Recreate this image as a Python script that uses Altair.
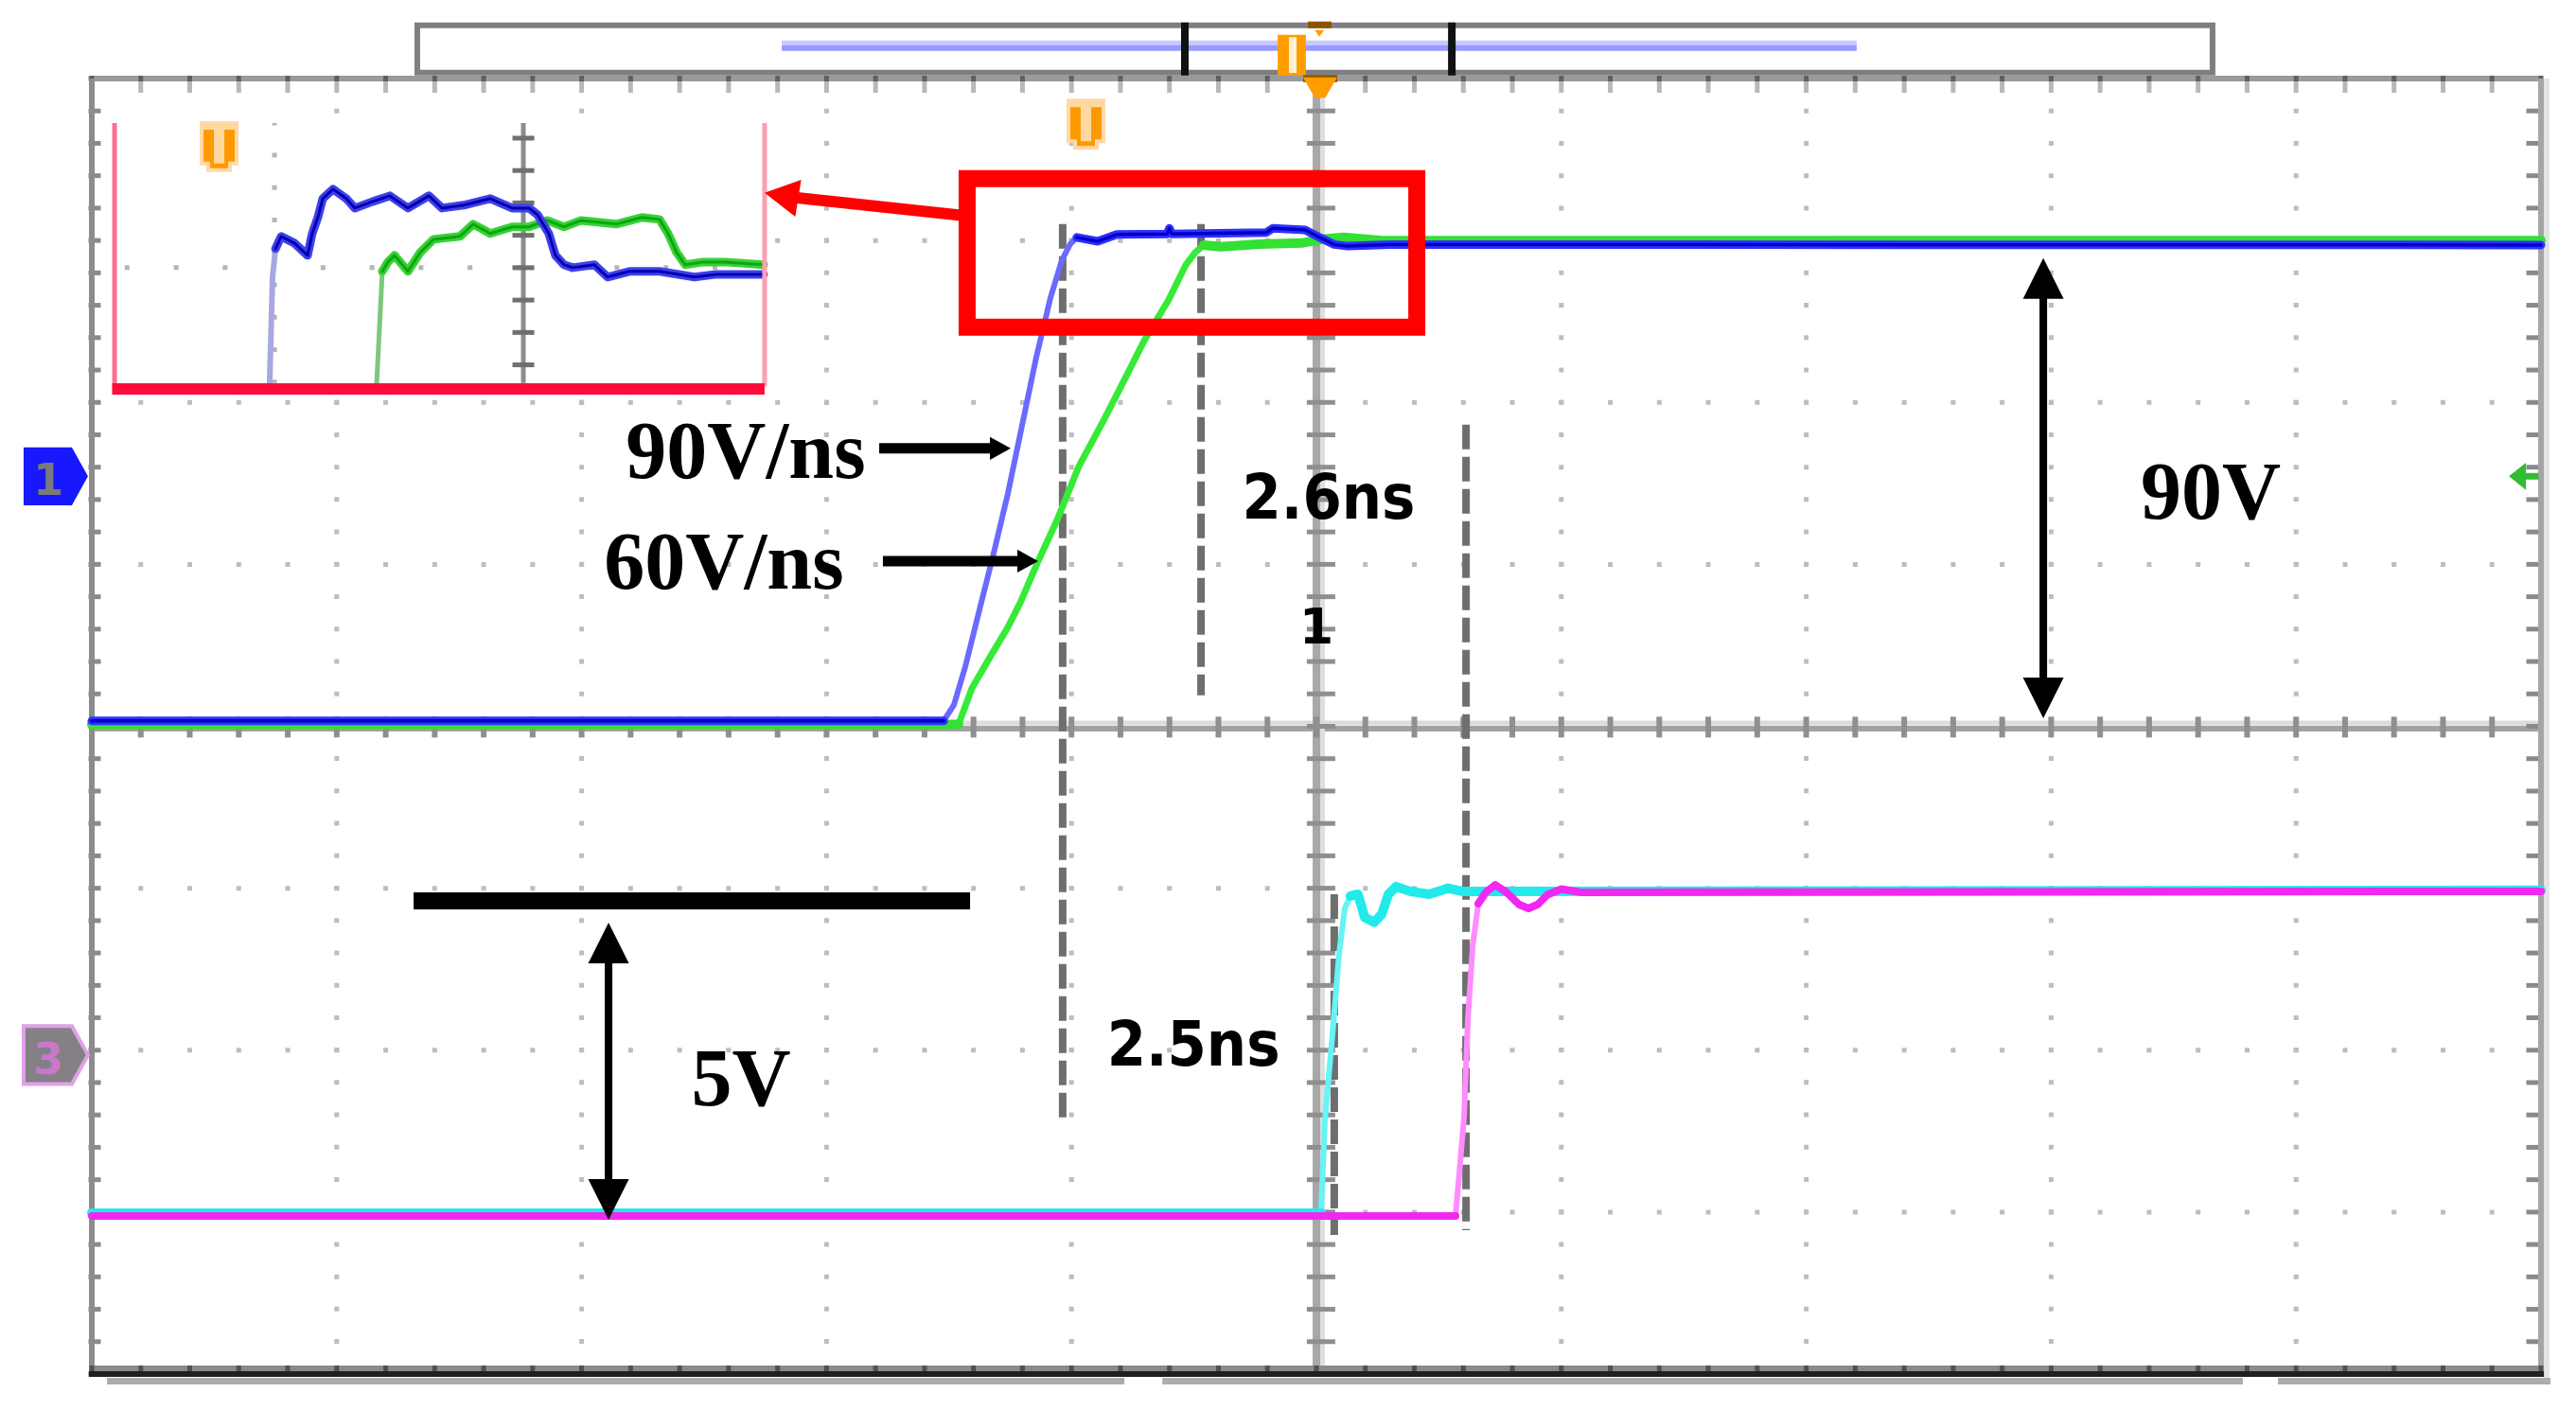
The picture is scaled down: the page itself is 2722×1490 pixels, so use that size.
import altair as alt
import pandas as pd

# ---------------- data, in oscilloscope divisions (x: 0..10, y: 0..8 from bottom) ----------------
# CH1 (blue) — 90 V/ns edge
ch1_base_x = [0.0, 3.478]
ch1_base_y = [4.033, 4.033]
ch1_rise_x = [3.478, 3.520, 3.566, 3.624, 3.682, 3.740, 3.798, 3.856, 3.914, 3.961, 3.995, 4.022]
ch1_rise_y = [4.033, 4.132, 4.366, 4.717, 5.067, 5.435, 5.856, 6.277, 6.645, 6.879, 6.978, 7.019]
ch1_top_x = [4.022, 4.107, 4.185, 4.390, 4.400, 4.410, 4.795, 4.822, 4.954, 5.012, 5.073, 5.127, 5.300, 10.0]
ch1_top_y = [7.019, 6.995, 7.037, 7.040, 7.075, 7.040, 7.049, 7.075, 7.065, 7.020, 6.975, 6.965, 6.975, 6.972]

# CH2 (green) — 60 V/ns edge
ch2_base_x = [0.0, 3.539]
ch2_base_y = [4.012, 4.012]
ch2_rise_x = [3.539, 3.594, 3.671, 3.740, 3.791, 3.864, 3.941, 4.030, 4.134, 4.223, 4.297, 4.397, 4.467, 4.505, 4.540]
ch2_rise_y = [4.012, 4.237, 4.436, 4.611, 4.763, 5.020, 5.272, 5.605, 5.897, 6.160, 6.382, 6.634, 6.850, 6.926, 6.972]
ch2_top_x = [4.540, 4.610, 4.764, 4.938, 5.035, 5.112, 5.267, 10.0]
ch2_top_y = [6.972, 6.961, 6.978, 6.984, 7.010, 7.020, 7.000, 7.000]

# CH3 (cyan)
ch3_base_x = [0.0, 5.019]
ch3_base_y = [0.994, 0.994]
ch3_rise_x = [5.019, 5.035, 5.070, 5.093, 5.116, 5.139]
ch3_rise_y = [0.994, 1.572, 2.174, 2.601, 2.876, 2.952]
ch3_top_x = [5.139, 5.170, 5.197, 5.236, 5.267, 5.294, 5.325, 5.382, 5.460, 5.537, 5.595, 10.0]
ch3_top_y = [2.952, 2.963, 2.820, 2.790, 2.840, 2.963, 3.010, 2.981, 2.963, 3.000, 2.981, 2.987]

# CH4 (magenta)
ch4_base_x = [0.0, 5.568]
ch4_base_y = [0.976, 0.976]
ch4_rise_x = [5.568, 5.580, 5.603, 5.618, 5.638, 5.661]
ch4_rise_y = [0.976, 1.181, 1.590, 2.174, 2.642, 2.905]
ch4_top_x = [5.661, 5.692, 5.730, 5.776, 5.827, 5.866, 5.904, 5.943, 6.001, 6.078, 10.0]
ch4_top_y = [2.905, 2.975, 3.020, 2.975, 2.900, 2.875, 2.900, 2.960, 2.995, 2.975, 2.981]

# Inset (zoom of the red box)
in_blue_edge_x = [0.726, 0.738, 0.750]
in_blue_edge_y = [6.113, 6.774, 6.949]
in_blue_x = [0.750, 0.773, 0.827, 0.881, 0.900, 0.923, 0.943, 0.985, 1.039, 1.074, 1.148, 1.217, 1.291,
             1.376, 1.430, 1.519, 1.627, 1.716, 1.785, 1.820, 1.866, 1.893, 1.928, 1.963, 2.052, 2.106,
             2.195, 2.318, 2.461, 2.550, 2.743]
in_blue_y = [6.949, 7.025, 6.984, 6.908, 7.043, 7.142, 7.259, 7.317, 7.259, 7.200, 7.241, 7.276, 7.200,
             7.276, 7.200, 7.218, 7.259, 7.200, 7.200, 7.159, 7.043, 6.908, 6.850, 6.832, 6.850, 6.774,
             6.809, 6.809, 6.774, 6.791, 6.791]
in_green_edge_x = [1.163, 1.186]
in_green_edge_y = [6.113, 6.809]
in_green_x = [1.186, 1.209, 1.236, 1.291, 1.341, 1.395, 1.430, 1.503, 1.557, 1.627, 1.716, 1.785, 1.859,
              1.928, 1.998, 2.141, 2.245, 2.318, 2.353, 2.388, 2.423, 2.496, 2.585, 2.743]
in_green_y = [6.809, 6.867, 6.908, 6.809, 6.926, 7.007, 7.013, 7.025, 7.101, 7.043, 7.084, 7.084, 7.124,
              7.084, 7.124, 7.101, 7.142, 7.130, 7.043, 6.926, 6.850, 6.867, 6.867, 6.850]
inset_box = {"x": 0.093, "x2": 2.747, "y": 6.084, "y2": 7.726}
inset_grid_dotted_x = 0.746
inset_grid_solid_x = 1.762
inset_grid_dotted_y = 6.832
inset_ticks_y = [6.232, 6.432, 6.632, 6.832, 7.032, 7.232, 7.432, 7.632]

# Annotations
red_box = {"x": 3.574, "x2": 5.410, "y": 6.464, "y2": 7.382}
red_arrow_x = [3.559, 2.871]
red_arrow_y = [7.154, 7.265]
red_arrow_tip = (2.747, 7.294)

dashed_x = [3.964, 4.529, 5.611, 5.073]
dashed_y_top = [7.101, 7.101, 5.862, 2.963]
dashed_y_bot = [1.555, 4.191, 0.888, 0.859]

slope_arrow_x0 = [3.215, 3.230]
slope_arrow_x1 = [3.690, 3.800]
slope_arrow_tip_x = [3.752, 3.864]
slope_arrow_y = [5.716, 5.020]

vdouble_x = [7.968, 2.110]
vdouble_top = [6.891, 2.788]
vdouble_bot = [4.050, 0.953]

level_bar = {"x": 1.314, "x2": 3.586, "y": 2.922}

serif_labels = ["90V/ns", "60V/ns", "90V", "5V"]
serif_x = [2.670, 2.581, 8.652, 2.651]
serif_y = [5.535, 4.851, 5.283, 1.660]
sans_labels = ["2.6ns", "2.5ns"]
sans_x = [5.050, 4.498]
sans_y = [5.283, 1.905]
cursor_label = ["1"]
cursor_x = [5.0]
cursor_y = [4.512]

trig_marker_x = [0.520, 4.059]
trig_marker_y = [7.580, 7.718]

# top record bar
bar_box = {"x": 1.329, "x2": 8.659, "y": 8.036, "y2": 8.328}
bar_trace = {"x": 2.817, "x2": 7.206}
bar_brackets_x = [4.463, 5.553]

# graticule
major_v = [1, 2, 3, 4, 6, 7, 8, 9]
major_h = [1, 2, 3, 5, 6, 7]
minor_x = [round(0.2 * k, 1) for k in range(51)]
minor_y = [round(0.2 * k, 1) for k in range(41)]

# ---------------- helpers ----------------
XS = alt.Scale(domain=[0, 10], nice=False, zero=False)
YS = alt.Scale(domain=[0, 8], nice=False, zero=False)
X = lambda f="x": alt.X(f"{f}:Q", scale=XS, axis=None)
Y = lambda f="y": alt.Y(f"{f}:Q", scale=YS, axis=None)


def trace(xs, ys, color, width, opacity=1.0, cap="round"):
    df = pd.DataFrame({"x": xs, "y": ys, "i": list(range(len(xs)))})
    return alt.Chart(df).mark_line(color=color, strokeWidth=width, opacity=opacity,
                                   strokeJoin="round", strokeCap=cap).encode(
        x=X(), y=Y(), order="i:Q")


def rules(x, x2, y, y2, color, width, dash=None, offset=None, cap="butt"):
    df = pd.DataFrame({"x": x, "x2": x2, "y": y, "y2": y2})
    kw = dict(color=color, strokeWidth=width, strokeCap=cap, opacity=1)
    if dash is not None:
        kw["strokeDash"] = dash
    if offset is not None:
        kw["strokeDashOffset"] = offset
    return alt.Chart(df).mark_rule(**kw).encode(x=X(), x2="x2:Q", y=Y(), y2="y2:Q")


def ticks(xs, ys, orient, size, thickness, color, xoff=None, yoff=None):
    df = pd.DataFrame({"x": xs, "y": ys})
    kw = dict(orient=orient, size=size, thickness=thickness, color=color, opacity=1)
    if xoff is not None:
        kw["xOffset"] = xoff
    if yoff is not None:
        kw["yOffset"] = yoff
    return alt.Chart(df).mark_tick(**kw).encode(x=X(), y=Y())


def symbols(xs, ys, shape, size, fill, angle=None, stroke=None, sw=None):
    df = pd.DataFrame({"x": xs, "y": ys})
    kw = dict(shape=shape, size=size, filled=True, fill=fill, opacity=1)
    if angle is not None:
        kw["angle"] = angle
    if stroke is not None:
        kw["stroke"] = stroke
        kw["strokeWidth"] = sw
    return alt.Chart(df).mark_point(**kw).encode(x=X(), y=Y())


def rects(x, x2, y, y2, fill, stroke=None, sw=None, fill_opacity=1):
    df = pd.DataFrame({"x": x, "x2": x2, "y": y, "y2": y2})
    kw = dict(fill=fill, fillOpacity=fill_opacity, opacity=1)
    if stroke is not None:
        kw["stroke"] = stroke
        kw["strokeWidth"] = sw
    return alt.Chart(df).mark_rect(**kw).encode(x=X(), x2="x2:Q", y=Y(), y2="y2:Q")


def labels(xs, ys, texts, font, size, color="black", weight="bold"):
    df = pd.DataFrame({"x": xs, "y": ys, "t": texts})
    return alt.Chart(df).mark_text(font=font, fontSize=size, fontWeight=weight, color=color,
                                   align="center", baseline="alphabetic").encode(
        x=X(), y=Y(), text="t:N")


layers = []

# ---- graticule dots ----
n = len(major_v)
layers.append(rules(major_v, major_v, [8] * n, [0] * n, "#bdbdbd", 5, dash=[5, 29.22], offset=2.5))
n = len(major_h)
layers.append(rules([0] * n, [10] * n, major_h, major_h, "#bdbdbd", 5, dash=[5, 46.76], offset=2.5))

# ---- centre axes ----
layers.append(rules([0], [10], [4.021], [4.021], "#dcdcdc", 5))
layers.append(rules([0], [10], [3.986], [3.986], "#a2a2a2", 6))
layers.append(rules([5.025], [5.025], [0], [8], "#dedede", 5))
layers.append(rules([5.0], [5.0], [0], [8], "#a8a8a8", 8))
layers.append(ticks(minor_x[1:-1], [3.995] * (len(minor_x) - 2), "vertical", 22, 6, "#8f8f8f"))
layers.append(ticks([5.019] * (len(minor_y) - 2), minor_y[1:-1], "horizontal", 30, 5, "#8f8f8f"))

# ---- frame ----
layers.append(ticks(minor_x, [8] * len(minor_x), "vertical", 12, 5, "#b8b8b8", yoff=9))
layers.append(ticks([0] * len(minor_y), minor_y, "horizontal", 13, 5, "#8a8a8a", xoff=3))
layers.append(ticks([10] * len(minor_y), minor_y, "horizontal", 13, 5, "#8a8a8a", xoff=-9))
layers.append(rules([0], [10], [8], [8], "#9a9a9a", 6))
layers.append(ticks(minor_x, [8] * len(minor_x), "vertical", 6, 5, "#606060"))
layers.append(rules([0], [0], [0], [8], "#8c8c8c", 6))
layers.append(rules([10.023], [10.023], [-0.04], [8], "#e3e3e3", 6))
layers.append(rules([10], [10], [0], [8], "#a5a5a5", 6))
layers.append(rules([0], [10], [0.035], [0.035], "#8a8a8a", 6))
layers.append(ticks(minor_x, [0.035] * len(minor_x), "vertical", 6, 5, "#505050"))
layers.append(rules([-0.012], [10.012], [0], [0], "#1f2121", 6))
layers.append(rules([0.062, 4.371, 8.926], [4.216, 8.783, 10.039], [-0.044] * 3, [-0.044] * 3, "#acacac", 7))

# ---- top record bar ----
layers.append(rects([bar_box["x"]], [bar_box["x2"]], [bar_box["y"]], [bar_box["y2"]], "white", "#7f7f7f", 6))
layers.append(rules([bar_trace["x"]], [bar_trace["x2"]], [8.220], [8.220], "#c8c8ff", 5))
layers.append(rules([bar_trace["x"]], [bar_trace["x2"]], [8.188], [8.188], "#9898ff", 6))
layers.append(rules(bar_brackets_x, bar_brackets_x, [8.019] * 2, [8.346] * 2, "#111111", 8))
layers.append(rects([4.842], [4.957], [8.019], [8.270], "#ff9d00"))
layers.append(rects([4.888], [4.919], [8.035], [8.255], "#fff0d6"))
layers.append(rects([4.965], [5.062], [8.311], [8.352], "#8a5600"))
layers.append(symbols([5.012], [8.282], "M-1,-0.6L1,-0.6L0,0.8Z", 100, "#ff9d00"))
layers.append(rects([4.946], [5.085], [7.978], [8.022], "#8a5600"))
layers.append(symbols([5.015], [7.944], "M-1,-0.6L1,-0.6L0.3,0.6L-0.3,0.6Z", 1296, "#ff9d00"))

# ---- inset ----
layers.append(rects([inset_box["x"]], [inset_box["x2"]], [inset_box["y"]], [inset_box["y2"]], "white"))
layers.append(rules([inset_grid_dotted_x], [inset_grid_dotted_x], [inset_box["y2"]], [6.12], "#b5b5b5", 5,
                    dash=[5, 29.22], offset=2.5))
layers.append(rules([inset_box["x"]], [inset_box["x2"]], [inset_grid_dotted_y], [inset_grid_dotted_y],
                    "#b5b5b5", 5, dash=[5, 46.76], offset=41))
layers.append(rules([inset_grid_solid_x], [inset_grid_solid_x], [6.12], [inset_box["y2"]], "#8c8c8c", 5))
layers.append(ticks([inset_grid_solid_x] * len(inset_ticks_y), inset_ticks_y, "horizontal", 23, 5, "#6f6f6f"))
layers.append(trace(in_green_edge_x, in_green_edge_y, "#7cc87c", 5, cap="butt"))
layers.append(trace(in_green_x, in_green_y, "#3ad03a", 9))
layers.append(trace(in_green_x, in_green_y, "#0aa80a", 3))
layers.append(trace(in_blue_edge_x, in_blue_edge_y, "#a8a8e0", 6, cap="butt"))
layers.append(trace(in_blue_x, in_blue_y, "#4040ea", 9))
layers.append(trace(in_blue_x, in_blue_y, "#0000b0", 3))
layers.append(rules([inset_box["x"]], [inset_box["x"]], [6.10], [inset_box["y2"]], "#ff6f8c", 5))
layers.append(rules([inset_box["x2"]], [inset_box["x2"]], [6.10], [inset_box["y2"]], "#ff9fb0", 5))
layers.append(rules([inset_box["x"] - 0.01], [inset_box["x2"]], [6.084], [6.084], "#ff0a3a", 12))

# ---- dashed cursor lines ----
layers.append(rules(dashed_x, dashed_x, dashed_y_top, dashed_y_bot, "#6e6e6e", 8, dash=[26, 8]))

# ---- traces ----
layers.append(trace(ch2_rise_x, ch2_rise_y, "#38ea38", 7))
layers.append(trace(ch2_base_x, ch2_base_y, "#33e033", 10))
layers.append(trace(ch2_top_x, ch2_top_y, "#33e033", 10))
layers.append(trace(ch1_rise_x, ch1_rise_y, "#6a6aff", 6))
layers.append(trace(ch1_base_x, ch1_base_y, "#3030ff", 9))
layers.append(trace(ch1_base_x, ch1_base_y, "#0000c8", 3.5))
layers.append(trace(ch1_top_x, ch1_top_y, "#3030ff", 9))
layers.append(trace(ch1_top_x, ch1_top_y, "#0000c8", 3.5))
layers.append(trace(ch3_rise_x, ch3_rise_y, "#66f4f4", 6))
layers.append(trace(ch3_base_x, ch3_base_y, "#22eaea", 10))
layers.append(trace(ch3_top_x, ch3_top_y, "#22eaea", 10))
layers.append(trace(ch4_rise_x, ch4_rise_y, "#ff8cff", 6))
layers.append(trace(ch4_base_x, ch4_base_y, "#f028f0", 8))
layers.append(trace(ch4_top_x, ch4_top_y, "#f028f0", 8))

# ---- red zoom box and arrow ----
layers.append(rects([red_box["x"]], [red_box["x2"]], [red_box["y"]], [red_box["y2"]], "white", "#ff0000", 18,
                    fill_opacity=0))
layers.append(rules([red_arrow_x[0]], [red_arrow_x[1]], [red_arrow_y[0]], [red_arrow_y[1]], "#ff0000", 12))
layers.append(symbols([red_arrow_tip[0]], [red_arrow_tip[1]], "M0,0L2,-1.1L2,1.1Z", 1296, "#ff0000", angle=9))

# ---- black annotations ----
layers.append(rules([level_bar["x"]], [level_bar["x2"]], [level_bar["y"]], [level_bar["y"]], "black", 18))
layers.append(rules(slope_arrow_x0, slope_arrow_x1, slope_arrow_y, slope_arrow_y, "black", 11))
layers.append(symbols(slope_arrow_tip_x, slope_arrow_y, "M0,0L-2,-1.1L-2,1.1Z", 484, "black"))
layers.append(rules(vdouble_x, vdouble_x, [t - 0.117 for t in vdouble_top], [b + 0.117 for b in vdouble_bot],
                    "black", 8))
layers.append(symbols(vdouble_x, vdouble_top, "M0,0L-1,2L1,2Z", 1849, "black"))
layers.append(symbols(vdouble_x, vdouble_bot, "M0,0L-1,-2L1,-2Z", 1849, "black"))

layers.append(labels(serif_x, serif_y, serif_labels, "Liberation Serif", 86))
layers.append(labels(sans_x, sans_y, sans_labels, "DejaVu Sans Condensed, DejaVu Sans", 66))
layers.append(labels(cursor_x, cursor_y, cursor_label, "DejaVu Sans", 52))

# ---- trigger markers "T" ----
body = "M-1,-1.35L1,-1.35L1,0.97L0.62,0.97L0.62,1.35L-0.62,1.35L-0.62,0.97L-1,0.97Z"
tglyph = "M-1,-1.35L1,-1.35L1,-0.97L0.3,-0.97L0.3,0.97L-0.3,0.97L-0.3,-0.97L-1,-0.97Z"
layers.append(symbols(trig_marker_x, trig_marker_y, body, 1369, "#ff9900", stroke="#ffd9a8", sw=4))
layers.append(symbols(trig_marker_x, trig_marker_y, tglyph, 1369, "#ffd8a0"))

# ---- channel markers ----
layers.append(symbols([-0.147], [5.544], "M-1,-0.9L0.5,-0.9L1,0L0.5,0.9L-1,0.9Z", 4624, "#1818ff"))
layers.append(labels([-0.178], [5.430], ["1"], "DejaVu Sans", 46, color="#7a7a7a"))
layers.append(symbols([-0.147], [1.970], "M-1,-0.9L0.5,-0.9L1,0L0.5,0.9L-1,0.9Z", 4624, "#858085",
                      stroke="#e0a0e8", sw=4))
layers.append(labels([-0.178], [1.853], ["3"], "DejaVu Sans", 46, color="#c878c8"))
layers.append(symbols([9.869], [5.544], "M0,0L2,-1.6L2,1.6Z", 324, "#33bb33"))
layers.append(rules([9.935], [9.99], [5.544], [5.544], "#33bb33", 7))

chart = alt.layer(*layers).properties(
    width=2588, height=1369,
    autosize=alt.AutoSizeParams(type="none"),
    padding={"left": 89, "top": 75, "right": 29, "bottom": 30},
    background="white",
).configure_view(strokeWidth=0)

chart.save("out.html", embed_options={"renderer": "svg", "actions": False})
